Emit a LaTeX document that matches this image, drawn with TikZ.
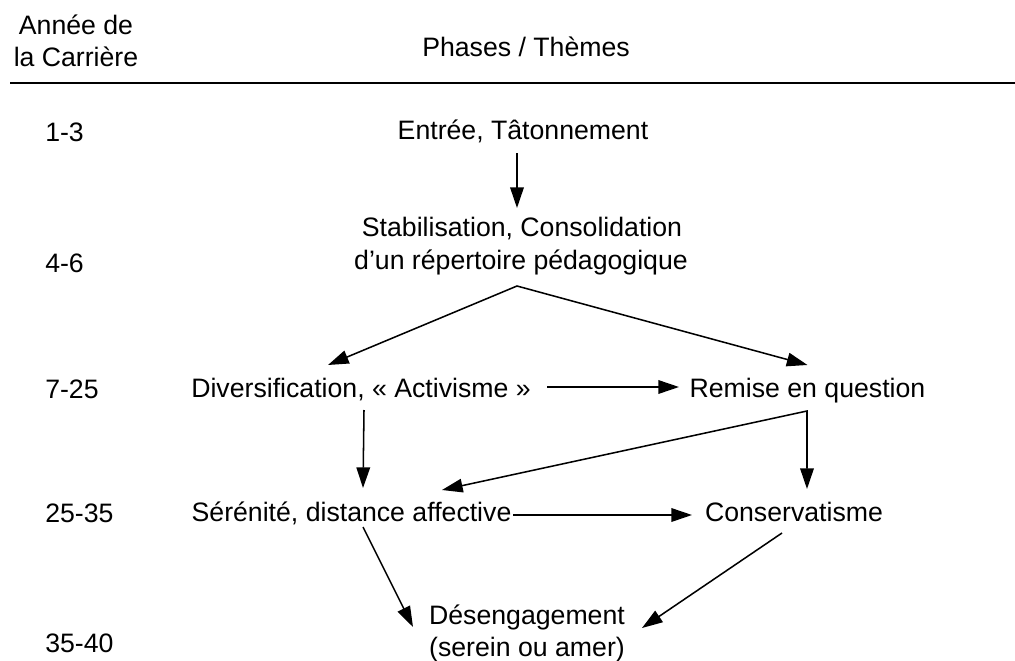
\documentclass[tikz,border=0pt]{standalone}
\usepackage{fontspec}
\setmainfont{Liberation Sans}
\usetikzlibrary{arrows.meta,calc}
\begin{document}
\begin{tikzpicture}[x=0.75pt,y=-0.75pt,
  lbl/.style={font=\fontsize{20pt}{24pt}\selectfont, inner sep=0pt, text height=14.32pt, text depth=0pt},
  yr/.style={lbl, anchor=west},
  tip/.tip={Triangle[length=15.5pt,width=10.2pt]},
  arr/.style={-tip, line width=1.15pt},
  arrtwo/.style={tip-tip, line width=1.15pt, line join=miter}]
\useasboundingbox (0,0) rectangle (1015,661);

% header
\node[lbl] (annee) at (76,25) {Année de};
\node[lbl] (carriere) at (76,57) {la Carrière};
\node[lbl] (phases) at (526,47) {Phases / Thèmes};
\coordinate (ruleL) at (10,82.5);
\coordinate (ruleR) at (1015,82.5);
\draw[line width=1.5pt] (ruleL) -- (ruleR);

% years
\node[yr] (y13) at (45,132) {1-3};
\node[yr] (y46) at (45,263) {4-6};
\node[yr] (y725) at (45,389) {7-25};
\node[yr] (y2535) at (45,513) {25-35};
\node[yr] (y3540) at (45,643) {35-40};

% phases
\node[lbl] (entree) at (523,130) {Entrée, Tâtonnement};
\node[lbl] (stab1) at (522,227) {Stabilisation, Consolidation};
\node[lbl] (stab2) at (521,260) {d’un répertoire pédagogique};
\node[lbl] (div) at (361,388) {Diversification, « Activisme »};
\node[lbl] (remise) at (807.5,388) {Remise en question};
\node[lbl] (serenite) at (351.5,512) {Sérénité, distance affective};
\node[lbl] (conserv) at (794,512) {Conservatisme};
\node[lbl] (deseng) at (527,615) {Désengagement};
\node[lbl] (deseng2) at (527,647) {(serein ou amer)};

% connectors
\draw[arr] ($(entree)+(-6,23)$) -- ($(stab1)+(-5,-19)$);
\coordinate (apex) at ($(stab2)+(-4,26)$);
\draw[arrtwo] ($(div)+(-33,-23)$) -- (apex) -- ($(remise)+(0,-23)$);
\draw[arr] ($(div)+(186,-1)$) -- ($(remise)+(-128.5,-1)$);
\draw[arr] ($(div)+(3,22)$) -- ($(serenite)+(11.5,-24)$);
\coordinate (rq) at ($(remise)+(-0.5,23)$);
\draw[arrtwo] ($(serenite)+(90.5,-22)$) -- (rq) -- ($(conserv)+(13,-23)$);
\draw[arr] ($(serenite)+(161.5,3)$) -- ($(conserv)+(-102,3)$);
\draw[arr] ($(serenite)+(11.5,15)$) -- ($(deseng)+(-114,12)$);
\draw[arr] ($(conserv)+(-12,21)$) -- ($(deseng)+(115,13)$);
\end{tikzpicture}
\end{document}
